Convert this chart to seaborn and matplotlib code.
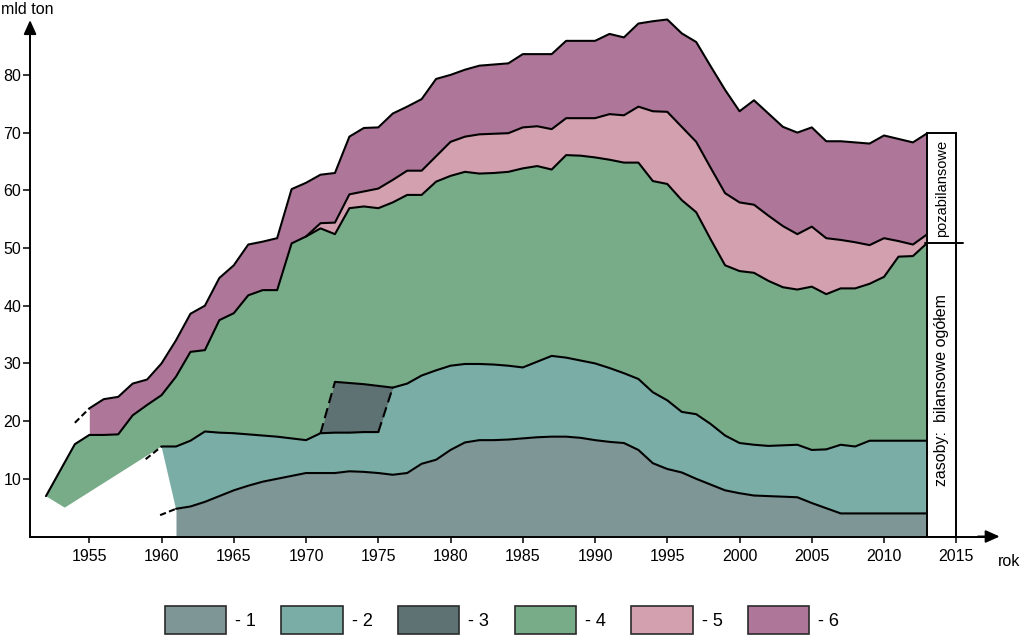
import matplotlib
matplotlib.use("Agg")
import matplotlib.pyplot as plt
from matplotlib.patches import Patch, Rectangle
import seaborn as sns
import numpy as np

# ---------------- data (cumulative upper boundaries, mld ton) ----------------
years4 = list(range(1952, 2014))
top4 = [7.0, 11.5, 16.0, 17.6, 17.6, 17.7, 21.0, 22.8, 24.5, 27.7,
        32.0, 32.3, 37.5, 38.7, 41.8, 42.7, 42.7, 50.8, 52.0, 53.4,
        52.4, 56.9, 57.2, 56.9, 57.9, 59.2, 59.2, 61.5, 62.5, 63.2,
        62.9, 63.0, 63.2, 63.8, 64.2, 63.6, 66.1, 66.0, 65.7, 65.3,
        64.8, 64.8, 61.6, 61.1, 58.3, 56.2, 51.5, 47.0, 46.0, 45.7,
        44.3, 43.2, 42.8, 43.3, 42.0, 43.0, 43.0, 43.8, 45.0, 48.5,
        48.6, 50.9]
# lower edge of layer 4 before layer 2 begins
bottom4_years = [1952, 1953.3, 1960]
bottom4 = [7.0, 5.0, 15.6]

years5 = list(range(1970, 2014))
top5 = [52.0, 54.3, 54.4, 59.3, 59.8, 60.3, 61.8, 63.4, 63.4, 65.9,
        68.4, 69.3, 69.7, 69.8, 69.9, 70.9, 71.1, 70.6, 72.5, 72.5,
        72.5, 73.2, 73.0, 74.5, 73.7, 73.6, 71.0, 68.4, 63.9, 59.5,
        57.9, 57.5, 55.6, 53.8, 52.4, 53.7, 51.7, 51.4, 51.0, 50.5,
        51.7, 51.2, 50.6, 52.4]

years6 = list(range(1955, 2014))
top6 = [22.2, 23.8, 24.2, 26.5, 27.2, 30.0, 34.0, 38.6, 40.0, 44.8,
        47.0, 50.6, 51.1, 51.7, 60.2, 61.3, 62.7, 63.0, 69.3, 70.8,
        70.9, 73.3, 74.5, 75.8, 79.3, 80.0, 80.9, 81.6, 81.8, 82.0,
        83.6, 83.6, 83.6, 85.9, 85.9, 85.9, 87.1, 86.5, 88.9, 89.3,
        89.6, 87.2, 85.7, 81.5, 77.4, 73.7, 75.6, 73.3, 71.0, 70.0,
        70.9, 68.5, 68.5, 68.3, 68.1, 69.5, 68.9, 68.3, 69.9]

years2 = list(range(1960, 2014))
top2 = [15.6, 15.6, 16.6, 18.2, 18.0, 17.9, 17.7, 17.5, 17.3, 17.0,
        16.7, 17.9, 18.0, 18.0, 18.1, 18.1, 25.8, 26.5, 27.9, 28.8,
        29.6, 29.9, 29.9, 29.8, 29.6, 29.3, 30.3, 31.3, 31.0, 30.5,
        30.0, 29.2, 28.3, 27.3, 25.0, 23.6, 21.6, 21.2, 19.5, 17.5,
        16.2, 15.9, 15.7, 15.8, 15.9, 15.0, 15.1, 15.9, 15.6, 16.6,
        16.6, 16.6, 16.6, 16.6]

years1 = list(range(1961, 2014))
top1 = [4.8, 5.2, 6.0, 7.0, 8.0, 8.8, 9.5, 10.0, 10.5, 11.0,
        11.0, 11.0, 11.3, 11.2, 11.0, 10.7, 11.0, 12.6, 13.3, 15.0,
        16.3, 16.7, 16.7, 16.8, 17.0, 17.2, 17.3, 17.3, 17.1, 16.7,
        16.4, 16.2, 15.0, 12.7, 11.7, 11.1, 10.0, 9.0, 8.0, 7.5,
        7.1, 7.0, 6.9, 6.8, 5.8, 4.9, 4.0, 4.0, 4.0, 4.0,
        4.0, 4.0, 4.0]

years3 = list(range(1971, 1977))
top3 = [17.9, 26.8, 26.6, 26.4, 26.1, 25.8]

# dashed lead-in points (year, value) of boundaries 1, 2 and 6
lead1 = (1959.9, 3.7)
lead2 = (1958.9, 13.4)
lead6 = (1954.0, 19.7)

legend_labels = ["- 1", "- 2", "- 3", "- 4", "- 5", "- 6"]
colors = ["#7E9696", "#7AADA5", "#5F7273", "#78AC89", "#D3A0AF", "#AE7799"]
box_top_label = "pozabilansowe"
box_bottom_label = "zasoby:  bilansowe ogółem"
xticks = [1955, 1960, 1965, 1970, 1975, 1980, 1985, 1990, 1995, 2000, 2005, 2010, 2015]
yticks = [10, 20, 30, 40, 50, 60, 70, 80]

# ---------------- style ----------------
sns.set_theme(style="white")
plt.rcParams["font.family"] = ["Liberation Sans", "DejaVu Sans"]
plt.rcParams["text.color"] = "black"
plt.rcParams["axes.labelcolor"] = "black"
plt.rcParams["xtick.color"] = "black"
plt.rcParams["ytick.color"] = "black"

W, H = 1024, 639
fig = plt.figure(figsize=(W / 100, H / 100), dpi=100)
x0, x1 = 1950.0, 2019.0
y0, y1 = 0.0, 92.0
px_year, px_val = 14.45, 5.77
left_px = 89.3 - (1955 - x0) * px_year
bottom_px = H - 536.5
ax = fig.add_axes([left_px / W, bottom_px / H,
                   (x1 - x0) * px_year / W, (y1 - y0) * px_val / H])
ax.set_xlim(x0, x1)
ax.set_ylim(y0, y1)
ax.set_facecolor("none")

d2 = dict(zip(years2, top2))
d4 = dict(zip(years4, top4))
d5 = dict(zip(years5, top5))

# ---------------- fills ----------------
# layer 1
ax.fill_between(years1, 0, top1, color=colors[0], lw=0, zorder=1)
# layer 2
xs = years2 + years1[::-1]
ys = top2 + top1[::-1]
ax.fill(xs, ys, color=colors[1], lw=0, zorder=1)
# layer 4
xs = years4 + years2[::-1] + bottom4_years[::-1]
ys = top4 + top2[::-1] + bottom4[::-1]
ax.fill(xs, ys, color=colors[3], lw=0, zorder=1)
# layer 5
ax.fill_between(years5, [d4[y] for y in years5], top5, color=colors[4], lw=0, zorder=1)
# layer 6
low6 = [d5[y] if y in d5 else d4[y] for y in years6]
ax.fill_between(years6, low6, top6, color=colors[5], lw=0, zorder=1)
# layer 3
ax.fill_between(years3, [d2[y] for y in years3], top3, color=colors[2], lw=0, zorder=1)

# ---------------- boundary lines ----------------
lw = 1.5
lkw = dict(color="black", linewidth=lw, zorder=3, solid_joinstyle="round")
dash = (0, (3.0, 1.6))

sns.lineplot(x=years1, y=top1, ax=ax, **lkw)
i75 = years2.index(1975)
sns.lineplot(x=years2[:i75 + 1], y=top2[:i75 + 1], ax=ax, **lkw)
sns.lineplot(x=years2[i75 + 1:], y=top2[i75 + 1:], ax=ax, **lkw)
ax.plot(years2[i75:i75 + 2], top2[i75:i75 + 2], color="black", lw=lw, ls=(0, (5, 2.5)), zorder=3)
sns.lineplot(x=years3[1:], y=top3[1:], ax=ax, **lkw)
ax.plot(years3[:2], top3[:2], color="black", lw=lw, ls=(0, (5, 2.5)), zorder=3)
sns.lineplot(x=years4, y=top4, ax=ax, **lkw)
sns.lineplot(x=years5, y=top5, ax=ax, **lkw)
sns.lineplot(x=years6, y=top6, ax=ax, **lkw)

ax.plot([lead1[0], years1[0]], [lead1[1], top1[0]], color="black", lw=lw, ls=dash, zorder=3)
ax.plot([lead2[0], years2[0]], [lead2[1], top2[0]], color="black", lw=lw, ls=dash, zorder=3)
ax.plot([lead6[0], years6[0]], [lead6[1], top6[0]], color="black", lw=lw, ls=dash, zorder=3)

# ---------------- right-hand box ----------------
bx0, bx1 = years4[-1], 2015
ax.add_patch(Rectangle((bx0, 0), bx1 - bx0, top6[-1], facecolor="white",
                       edgecolor="black", lw=1.4, zorder=4))
ax.plot([bx0 - 0.2, bx1 + 0.45], [top4[-1], top4[-1]], color="black", lw=1.4, zorder=5)
ax.text((bx0 + bx1) / 2, (top4[-1] + top6[-1]) / 2, box_top_label, rotation=90,
        ha="center", va="center", fontsize=10.5, zorder=6)
ax.text((bx0 + bx1) / 2, top4[-1] / 2, box_bottom_label, rotation=90,
        ha="center", va="center", fontsize=11.5, zorder=6)

# ---------------- axes ----------------
yaxis_x = 1950.9
ymax_arrow = 89.5
xmax_arrow = 2018.0
for s in ["top", "right"]:
    ax.spines[s].set_visible(False)
ax.spines["left"].set_position(("data", yaxis_x))
ax.spines["left"].set_bounds(0, ymax_arrow - 1)
ax.spines["bottom"].set_bounds(yaxis_x, xmax_arrow - 1)
for s in ["left", "bottom"]:
    ax.spines[s].set_color("black")
    ax.spines[s].set_linewidth(1.4)
    ax.spines[s].set_zorder(7)
ax.annotate("", xy=(yaxis_x, ymax_arrow), xytext=(yaxis_x, ymax_arrow - 3),
            arrowprops=dict(arrowstyle="-|>,head_length=0.6,head_width=0.27",
                            color="black", lw=1.4, mutation_scale=14, shrinkA=0, shrinkB=0),
            annotation_clip=False, zorder=8)
ax.annotate("", xy=(xmax_arrow, 0), xytext=(xmax_arrow - 1.5, 0),
            arrowprops=dict(arrowstyle="-|>,head_length=0.6,head_width=0.27",
                            color="black", lw=1.4, mutation_scale=14, shrinkA=0, shrinkB=0),
            annotation_clip=False, zorder=8)

ax.set_xticks(xticks)
ax.set_xticklabels([str(t) for t in xticks])
ax.set_yticks(yticks)
ax.set_yticklabels([str(t) for t in yticks])
ax.tick_params(axis="both", which="major", direction="out", labelsize=11.5,
               width=1.1, color="black")
ax.tick_params(axis="y", length=5, pad=1.5, left=True)
ax.tick_params(axis="x", length=4, pad=5, bottom=True)
ax.set_xlabel("")
ax.set_ylabel("")

fig.text(1 / W, 1 - 2 / H, "mld ton", ha="left", va="top", fontsize=11.5)
fig.text(998 / W, 1 - 561 / H, "rok", ha="left", va="center", fontsize=11.5)

# ---------------- legend ----------------
handles = [Patch(facecolor=c, edgecolor="#2a2a2a", lw=1.2) for c in colors]
fig.legend(handles, legend_labels, loc="center", bbox_to_anchor=(502 / W, 1 - 620 / H),
           ncol=6, frameon=False, fontsize=13, handlelength=3.4, handleheight=1.95,
           handletextpad=0.5, columnspacing=1.4, borderpad=0, borderaxespad=0)

fig.savefig("out.png", dpi=100)
